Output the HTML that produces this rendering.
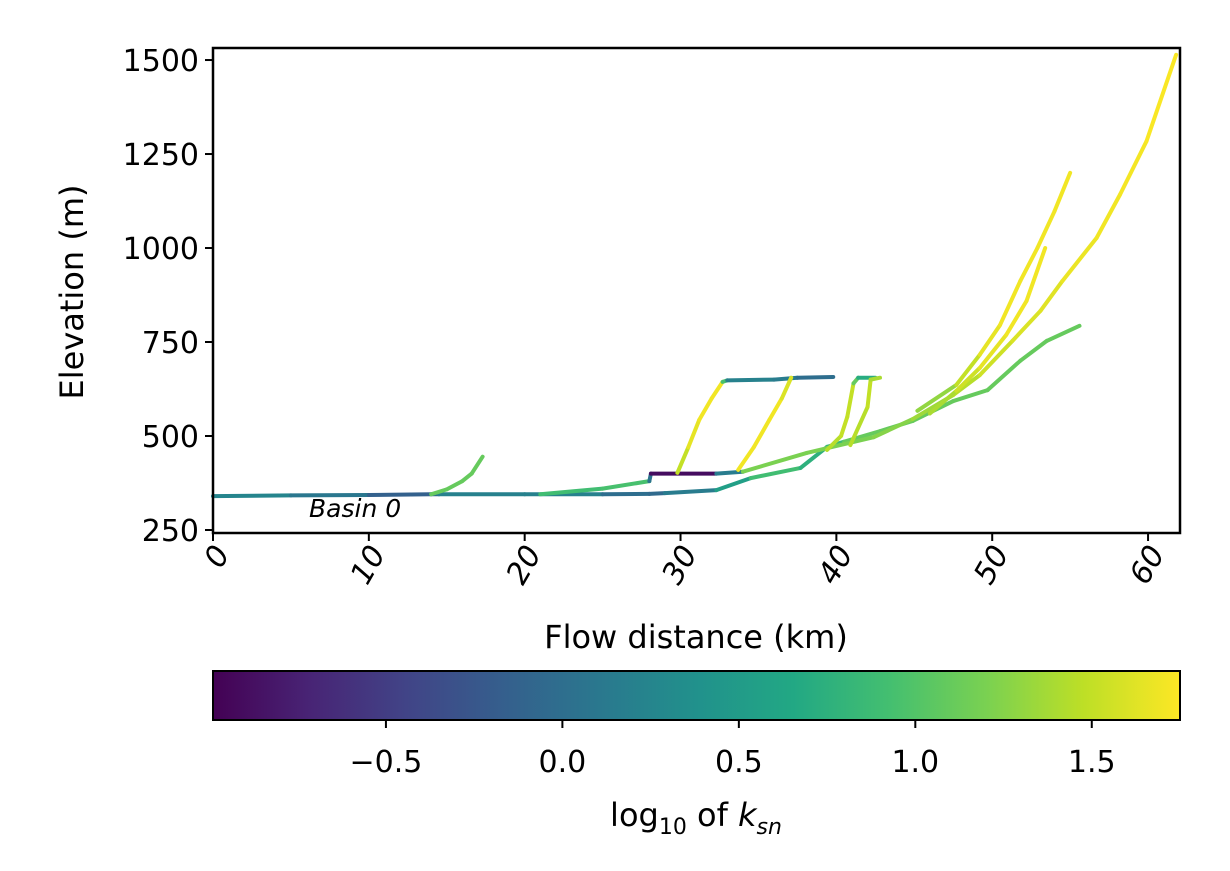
<!DOCTYPE html>
<html><head><meta charset="utf-8"><style>
body{margin:0;background:#fff;}
svg{display:block;font-family:"DejaVu Sans","Liberation Sans",sans-serif;}
</style></head><body>
<svg id="chart" width="1230" height="871" viewBox="0 0 1230 871" xmlns="http://www.w3.org/2000/svg">
<defs>
<linearGradient id="viridis" x1="0" x2="1" y1="0" y2="0">
<stop offset="0" stop-color="#440154"/><stop offset="0.1" stop-color="#482475"/><stop offset="0.2" stop-color="#414487"/><stop offset="0.3" stop-color="#355f8d"/><stop offset="0.4" stop-color="#2a788e"/><stop offset="0.5" stop-color="#21918c"/><stop offset="0.6" stop-color="#22a884"/><stop offset="0.7" stop-color="#44bf70"/><stop offset="0.8" stop-color="#7ad151"/><stop offset="0.9" stop-color="#bddf26"/><stop offset="1" stop-color="#fde725"/>
</linearGradient>
</defs>
<g id="marks"></g>
<g id="axes"></g>
<text x="309" y="517" font-size="25" font-style="italic">Basin 0</text>
<text transform="translate(83,292) rotate(-90)" text-anchor="middle" font-size="32">Elevation (m)</text>
<text x="696" y="648" text-anchor="middle" font-size="32">Flow distance (km)</text>
<rect x="213" y="671" width="967" height="49" fill="url(#viridis)" stroke="#000" stroke-width="2"/>
<g id="cbaxis"></g>
<text x="696" y="826" text-anchor="middle" font-size="32">log<tspan font-size="22" dy="8">10</tspan><tspan dy="-8"> of </tspan><tspan font-style="italic">k</tspan><tspan font-size="22" dy="8" font-style="italic">sn</tspan></text>
</svg>
<script>
const xTicks=[0,10,20,30,40,50,60];
const yTicks=[250,500,750,1000,1250,1500];
const cbTicks=[-0.5,0.0,0.5,1.0,1.5];
const cbTickLabels=["−0.5","0.0","0.5","1.0","1.5"];
// channels: [distance km, elevation m, log10 ksn]
const trunk=[[0,340,0.3],[5,342,0.2],[10,343,0.0],[14,345,-0.3],[14.5,345,0.2],[20,345,0.2],[25,345,0.2],[28,346,-0.2],[29,348,0.1],[32.3,356,0.2],[34.5,388,0.9],[37.7,415,0.9],[39.4,471,0.6],[40.5,485,1.1],[42.8,513,1.1],[44.9,540,1.1],[47.5,593,1.1],[49.7,622,1.1],[51.8,700,1.1],[53.5,753,1.1],[55.6,793,1.1]];
const upperTrunk=[[21,345,0.9],[25,360,0.9],[28,380,1.0],[28.1,400,-0.9],[32.3,400,-0.9],[34,405,1.2],[38.1,455,1.2],[42.4,497,1.2],[44.9,545,1.3],[47.5,609,1.4],[49.2,662,1.5],[51.3,753,1.6],[53.1,833,1.6],[54.5,912,1.65],[56.7,1027,1.7],[58.2,1142,1.7],[59.9,1284,1.72],[61.8,1514,1.75]];
const branchA=[[14,345,1.1],[15,358,1.1],[16,380,1.1],[16.6,400,1.1],[17.3,445,1.1]];
const branchB=[[29.8,402,1.4],[30.5,470,1.6],[31.2,543,1.7],[32,600,1.7],[32.7,644,1.7],[33,648,0.2],[36,650,0.2],[37.5,655,0.1],[39.8,657,-0.1]];
const branchC=[[33.7,410,1.7],[34.7,470,1.7],[35.7,543,1.7],[36.5,600,1.7],[37.1,655,1.5]];
const branchD=[[39.4,463,1.4],[40.3,500,1.5],[40.7,551,1.5],[41.1,640,1.5],[41.4,655,0.7],[42.5,655,0.7]];
const branchE=[[40.9,476,1.4],[42,577,1.5],[42.2,650,1.5],[42.8,655,1.3]];
const branchF=[[45.2,567,1.2],[47.7,636,1.4],[49.2,716,1.6],[50.5,795,1.7],[51.8,912,1.7],[52.9,1000,1.7],[54,1098,1.7],[55,1200,1.7]];
const branchG=[[46,560,1.3],[47.7,620,1.5],[49.2,681,1.6],[50.9,769,1.7],[52.2,859,1.7],[53.4,1000,1.7]];
const channels=[trunk,upperTrunk,branchA,branchB,branchC,branchD,branchE,branchF,branchG];

const X0=213,X1=1180,Y0=48,Y1=533,XMAX=62.05,YMIN=242,YMAX=1532;
const sx=v=>X0+v/XMAX*(X1-X0);
const sy=v=>Y1-(v-YMIN)/(YMAX-YMIN)*(Y1-Y0);
const CMIN=-0.99,CMAX=1.75;
const sc=v=>X0+(v-CMIN)/(CMAX-CMIN)*(X1-X0);
const vir=[[68,1,84],[72,36,117],[65,68,135],[53,95,141],[42,120,142],[33,145,140],[34,168,132],[68,191,112],[122,209,81],[189,223,38],[253,231,37]];
function color(v){let t=Math.max(0,Math.min(1,(v-CMIN)/(CMAX-CMIN)))*10;let i=Math.min(9,Math.floor(t)),f=t-i;
const c=vir[i].map((a,k)=>Math.round(a+(vir[i+1][k]-a)*f));return `rgb(${c})`;}
const NS="http://www.w3.org/2000/svg";
function mk(tag,attrs,parent){const e=document.createElementNS(NS,tag);for(const k in attrs)e.setAttribute(k,attrs[k]);parent.appendChild(e);return e;}
const marks=document.getElementById('marks');
channels.forEach((ch,ci)=>{
 for(let i=0;i<ch.length-1;i++){
  const a=ch[i],b=ch[i+1];
  const l=mk('line',{x1:sx(a[0]),y1:sy(a[1]),x2:sx(b[0]),y2:sy(b[1]),stroke:color((a[2]+b[2])/2),'stroke-width':4,'stroke-linecap':'round'},marks);
  
  
 }
});
const ax=document.getElementById('axes');
const fr=mk('rect',{x:X0,y:Y0,width:X1-X0,height:Y1-Y0,fill:'none',stroke:'#000','stroke-width':2.5},ax);


xTicks.forEach(v=>{const x=sx(v);mk('line',{x1:x,y1:Y1,x2:x,y2:Y1+8,stroke:'#000','stroke-width':2},ax);
 const t=mk('text',{transform:`translate(${x+10},${Y1+16}) rotate(-60)`,'text-anchor':'end','font-size':30,'font-style':'italic','dominant-baseline':'middle'},ax);t.textContent=v;
 
 });
yTicks.forEach(v=>{const y=sy(v);mk('line',{x1:X0-8,y1:y,x2:X0,y2:y,stroke:'#000','stroke-width':2},ax);
 const t=mk('text',{x:X0-14,y:y+11,'text-anchor':'end','font-size':30},ax);t.textContent=v;
 
 });
const cb=document.getElementById('cbaxis');
cbTicks.forEach((v,i)=>{const x=sc(v);mk('line',{x1:x,y1:720,x2:x,y2:728,stroke:'#000','stroke-width':2},cb);
 const t=mk('text',{x:x,y:772,'text-anchor':'middle','font-size':30},cb);t.textContent=cbTickLabels[i];
 
 });
</script>
</body></html>
